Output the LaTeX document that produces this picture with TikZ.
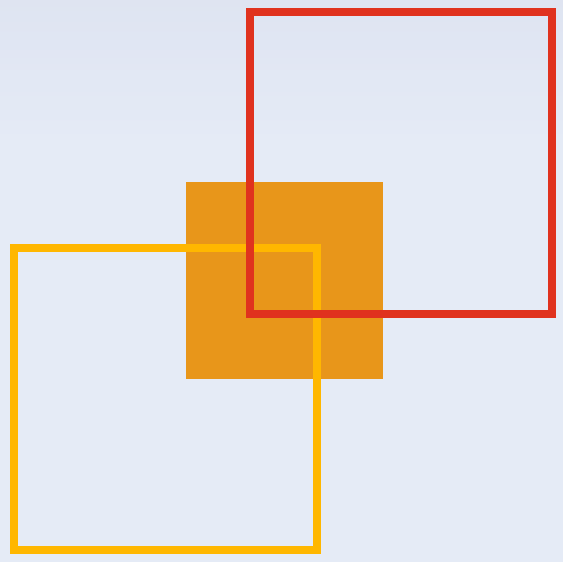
\documentclass[tikz,border=0pt]{standalone}
\definecolor{bgc}{RGB}{229,235,246}
\definecolor{bgtop}{RGB}{219,224,239}
\definecolor{redc}{RGB}{224,50,30}
\definecolor{orangec}{RGB}{232,150,26}
\definecolor{yellowc}{RGB}{255,183,0}
\tikzset{frame/.style={line width=8pt, line join=miter}}
\begin{document}
\begin{tikzpicture}[x=1pt,y=-1pt]
\useasboundingbox (0,0) rectangle (563,562);
\fill[bgc] (0,0) rectangle (563,562);
\shade[top color=bgtop, bottom color=bgc, opacity=0.6] (0,0) rectangle (563,140);
% orange filled square
\fill[orangec] (186,182) rectangle (383,379);
% yellow outline
\draw[frame, draw=yellowc] (14,248) rectangle (317,550);
% red outline
\draw[frame, draw=redc] (250,12) rectangle (552,314);
\end{tikzpicture}
\end{document}
